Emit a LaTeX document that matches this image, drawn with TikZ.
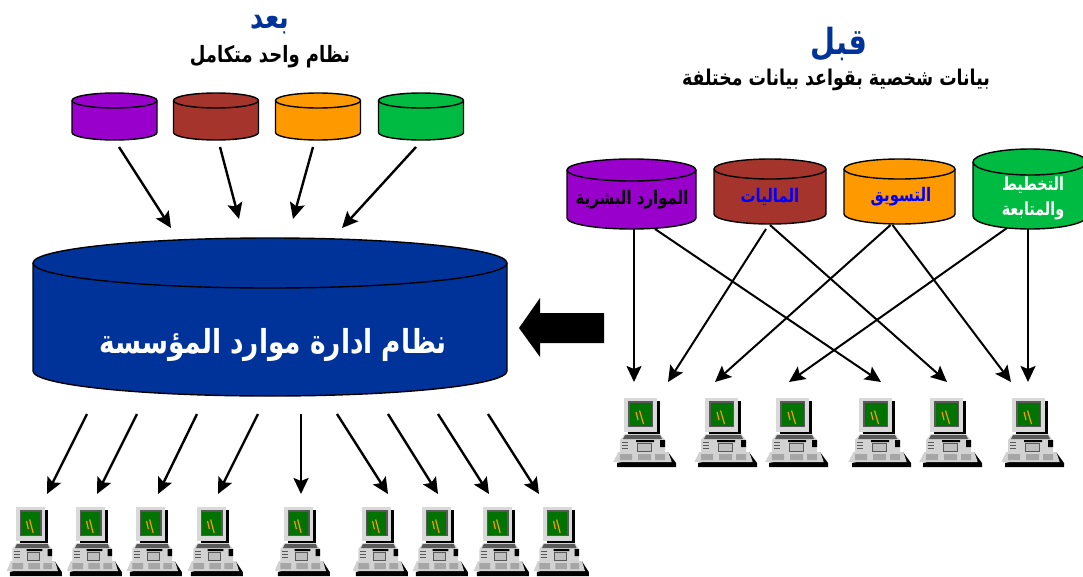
\documentclass[tikz,border=0pt]{standalone}
\usepackage{fontspec}
\usetikzlibrary{arrows.meta}
\TeXXeTstate=1
\newfontfamily\arabicfont[Script=Arabic]{DejaVu Sans}
\definecolor{dbpurple}{RGB}{153,0,204}
\definecolor{dbbrown}{RGB}{165,53,44}
\definecolor{dborange}{RGB}{255,153,0}
\definecolor{dbgreen}{RGB}{0,187,65}
\definecolor{dbblue}{RGB}{0,51,153}
% name, x, y, width, height, end radius, colour
\newcommand{\dbnode}[7]{
  \node[minimum width=#4pt, minimum height=#5pt, inner sep=0pt, outer sep=0pt] (#1) at (#2,#3) {};
  \draw[dbline, fill=#7] ([yshift=-#6pt]#1.north west) -- ([yshift=#6pt]#1.south west)
    arc[start angle=180, end angle=360, x radius=#4pt/2, y radius=#6pt] -- ([yshift=-#6pt]#1.north east)
    arc[start angle=0, end angle=180, x radius=#4pt/2, y radius=#6pt] -- cycle;
  \draw[dbline] ([yshift=-#6pt]#1.north west) arc[start angle=180, end angle=360, x radius=#4pt/2, y radius=#6pt];
}
\tikzset{
  dbline/.style={draw=black, line width=1.4pt},
  flow/.style={line width=2.4pt, -{Stealth[length=16pt,width=15pt,inset=3pt]}},
  lbl/.style={inner sep=0pt, align=center, transform shape, xscale=.8},
  computer/.pic={
    \fill (33,3) rectangle (36,37);
    \fill (-7,65) -- (44,54) -- (52,65) -- (52,69) -- (-7,69) -- cycle;
    \fill[gray!30] (0,0) rectangle (33,34);
    \fill[black!65] (4,3) rectangle (29,29);
    \fill[green!45!black] (5.5,4.5) rectangle (27.5,27.5);
    \draw[dborange,line width=1.2pt] (12,14) -- (14,22) (15.5,12.5) -- (19.5,26);
    \fill[black] (4,34) rectangle (34,37);
    \fill[gray!35] (1,36) -- (36,36) -- (41,42) -- (41,54) -- (-4,54) -- (-4,42) -- cycle;
    \fill[black!65] (1,37) -- (36,37) -- (38,41) -- (-1,41) -- cycle;
    \fill[black] (36,42) rectangle (41,49) (12,42) rectangle (30,44);
    \draw[black!65,line width=.8pt] (-2,44) -- (4,44) (-2,47) -- (4,47) (-2,50) -- (4,50);
    \draw[black!65,fill=gray!50,line width=.6pt] (13,45) rectangle (27,53);
    \fill[gray!35] (-5.7,54) -- (44.3,54) -- (47.7,64) -- (-10.7,64) -- cycle;
    \fill[gray!70] (-4,56) rectangle (8,62) (14,56) rectangle (27,62) (31,56) rectangle (41,62);
  },
}
\begin{document}
\begin{tikzpicture}[x=1pt,y=-1pt]
\useasboundingbox (0,0) rectangle (1083,576);
% databases
\dbnode{hrsmall}{114.5}{116.5}{85}{47}{7.5}{dbpurple}
\dbnode{finsmall}{216}{116.5}{85}{47}{7.5}{dbbrown}
\dbnode{mktsmall}{318}{116.5}{85}{47}{7.5}{dborange}
\dbnode{plansmall}{421}{116.5}{85}{47}{7.5}{dbgreen}
\dbnode{erp}{270}{317}{474}{158}{25}{dbblue}
\dbnode{hrdb}{631.5}{194}{129}{70}{11}{dbpurple}
\dbnode{findb}{770}{191.5}{112}{65}{10}{dbbrown}
\dbnode{mktdb}{899.5}{191.5}{111}{65}{10}{dborange}
\dbnode{plandb}{1030}{189}{114}{80}{13}{dbgreen}
% texts
\node[lbl, text=dbblue, font=\arabicfont\bfseries\fontsize{32}{36}\selectfont] (aftertitle) at (270,25) {\beginR بعد\endR};
\node[lbl, font=\arabicfont\bfseries\fontsize{22.5}{26}\selectfont] (aftersub) at (270,57) {\beginR نظام واحد متكامل\endR};
\node[lbl, text=dbblue, font=\arabicfont\bfseries\fontsize{36}{40}\selectfont] (beforetitle) at (839,44) {\beginR قبل\endR};
\node[lbl, font=\arabicfont\bfseries\fontsize{21.7}{26}\selectfont] (beforesub) at (836,80) {\beginR بيانات شخصية بقواعد بيانات مختلفة\endR};
\node[lbl, text=white, font=\arabicfont\bfseries\fontsize{33}{38}\selectfont] (erptext) at (273,345) {\beginR نظام ادارة موارد المؤسسة\endR};
\node[lbl, font=\arabicfont\bfseries\fontsize{18.7}{22}\selectfont] (hrtext) at (632,200) {\beginR الموارد البشرية\endR};
\node[lbl, text=blue, font=\arabicfont\bfseries\fontsize{18.7}{22}\selectfont] (fintext) at (770,197) {\beginR الماليات\endR};
\node[lbl, text=blue, font=\arabicfont\bfseries\fontsize{18.7}{22}\selectfont] (mkttext) at (901,197) {\beginR التسويق\endR};
\node[lbl, text=white, font=\arabicfont\bfseries\fontsize{18}{25}\selectfont] (plantext) at (1033,198) {\beginR التخطيط\endR\\\beginR والمتابعة\endR};
% computers
\foreach \name/\x in {pcr1/624,pcr2/705,pcr3/776,pcr4/859,pcr5/930,pcr6/1012} {
  \pic at (\x,398) {computer};
  \coordinate (\name) at (\x+16,382);
}
\foreach \name/\x in {pcb1/16,pcb2/76,pcb3/136,pcb4/197,pcb5/284,pcb6/362,pcb7/422,pcb8/483,pcb9/543} {
  \pic[xscale=.88] at (\x,507) {computer};
  \coordinate (\name) at (\x+15,494);
}
% arrows
\draw[flow] ([shift={(4.5,7)}]hrsmall.south) -- ([shift={(-99,-10)}]erp.north);
\draw[flow] ([shift={(4,7)}]finsmall.south) -- ([shift={(-31,-19)}]erp.north);
\draw[flow] ([shift={(-5,7)}]mktsmall.south) -- ([shift={(23,-19)}]erp.north);
\draw[flow] ([shift={(-5,7)}]plansmall.south) -- ([shift={(72,-10)}]erp.north);
\foreach \a/\b/\c in {-183/pcb1/16,-133/pcb2/6,-73/pcb3/7,-12/pcb4/6,31/pcb5/2,67/pcb6/11,118/pcb7/1,168/pcb8/-9,218/pcb9/-19}
  \draw[flow] ([shift={(\a,18)}]erp.south) -- ([xshift=\c pt]\b);
\begin{scope}[flow/.append style={line width=2pt}]
\draw[flow] ([xshift=2.5pt]hrdb.south) -- ([xshift=-6pt]pcr1);
\draw[flow] ([xshift=23.5pt]hrdb.south) -- ([xshift=6pt]pcr4);
\draw[flow] ([shift={(-4,5)}]findb.south) -- ([xshift=28pt]pcr1);
\draw[flow] ([shift={(0,1)}]findb.south) -- ([xshift=1pt]pcr5);
\draw[flow] ([shift={(-9,1)}]mktdb.south) -- ([xshift=-6pt]pcr2);
\draw[flow] ([shift={(-7,1)}]mktdb.south) -- ([xshift=-17pt]pcr6);
\draw[flow] ([shift={(-23,-1)}]plandb.south) -- ([xshift=-3pt]pcr3);
\draw[flow] ([xshift=-2pt]plandb.south) -- (pcr6);
\end{scope}
\fill (519,328) -- (540,298) -- (540,313) -- (604,313) -- (604,343) -- (540,343) -- (540,357) -- cycle;
\end{tikzpicture}
\end{document}
